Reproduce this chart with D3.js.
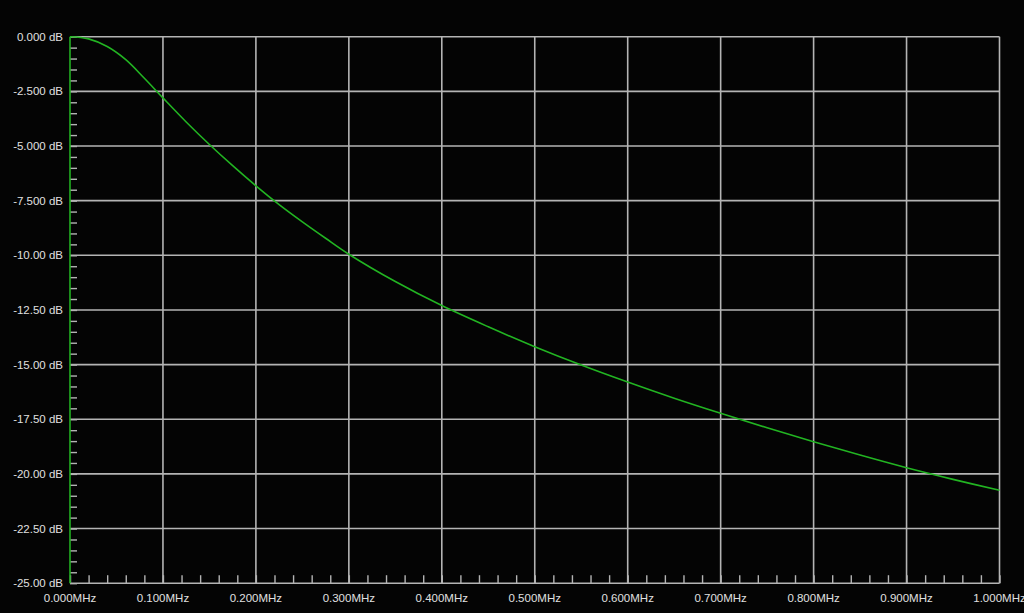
<!DOCTYPE html>
<html><head><meta charset="utf-8">
<script src="https://cdn.jsdelivr.net/npm/d3@7"></script>
<style>html,body{margin:0;padding:0;background:#000;}svg{display:block;}</style>
</head><body>
<svg id="c" width="1024" height="613"></svg>
<script>
const freqMHz = [0, 0.02, 0.04, 0.06, 0.08, 0.1, 0.125, 0.15, 0.175, 0.2, 0.225, 0.25, 0.275, 0.3, 0.35, 0.4, 0.45, 0.5, 0.55, 0.6, 0.65, 0.7, 0.75, 0.8, 0.85, 0.9, 0.95, 1.0];
const gainDb  = [0, -0.1, -0.45, -1.05, -1.9, -2.8, -3.9, -4.93, -5.9, -6.82, -7.68, -8.47, -9.22, -9.95, -11.2, -12.3, -13.27, -14.18, -15.02, -15.8, -16.54, -17.23, -17.89, -18.53, -19.14, -19.72, -20.25, -20.75];
const xTicks = [0, 0.1, 0.2, 0.3, 0.4, 0.5, 0.6, 0.7, 0.8, 0.9, 1.0];
const xTickLabels = ["0.000MHz","0.100MHz","0.200MHz","0.300MHz","0.400MHz","0.500MHz","0.600MHz","0.700MHz","0.800MHz","0.900MHz","1.000MHz"];
const yTicks = [0, -2.5, -5, -7.5, -10, -12.5, -15, -17.5, -20, -22.5, -25];
const yTickLabels = ["0.000 dB","-2.500 dB","-5.000 dB","-7.500 dB","-10.00 dB","-12.50 dB","-15.00 dB","-17.50 dB","-20.00 dB","-22.50 dB","-25.00 dB"];

const svg = d3.select("#c");
const L = 70, R = 999.5, T = 36.7, B = 583.2;
const x = d3.scaleLinear().domain([0, 1]).range([L, R]);
const y = d3.scaleLinear().domain([0, -25]).range([T, B]);
const grid = "#b4b4b4";
const font = "'Liberation Sans', Arial, sans-serif";

svg.append("rect").attr("width",1024).attr("height",613).attr("fill","#040404");

// horizontal grid
svg.append("g").selectAll("line").data(yTicks.slice(0, -1)).join("line")
  .attr("x1", L).attr("x2", R).attr("y1", d => y(d)).attr("y2", d => y(d))
  .attr("stroke", grid).attr("stroke-width", 1.6);
// vertical grid
svg.append("g").selectAll("line").data(xTicks.slice(1)).join("line")
  .attr("x1", d => x(d)).attr("x2", d => x(d)).attr("y1", T).attr("y2", B)
  .attr("stroke", grid).attr("stroke-width", 1.6);

// bottom axis
const xAxis = d3.axisBottom(x).tickValues(d3.range(0, 51).map(i => i / 50)).tickSize(-8).tickFormat("");
const gx = svg.append("g").attr("transform", `translate(0,${B})`).call(xAxis);
gx.select(".domain").attr("stroke", grid).attr("stroke-width", 1.6).attr("d", `M${L},0H${R}`);
gx.selectAll(".tick line").attr("stroke", grid).attr("stroke-width", 1.4);

svg.append("g").selectAll("text").data(xTicks).join("text")
  .attr("x", d => x(d)).attr("y", 602).attr("text-anchor", "middle")
  .attr("fill", "#e0e0e0").attr("font-family", font).attr("font-size", "11.5px")
  .text((d, i) => xTickLabels[i]);

// left axis minor ticks
const yAxis = d3.axisRight(y).tickValues(d3.range(0, 51).map(i => -i / 2)).tickSize(7).tickFormat("");
const gy = svg.append("g").attr("transform", `translate(${L},0)`).call(yAxis);
gy.select(".domain").remove();
gy.selectAll(".tick line").attr("stroke", grid).attr("stroke-width", 1.4);

svg.append("g").selectAll("text").data(yTicks).join("text")
  .attr("x", 63).attr("y", d => y(d)).attr("dy", "0.36em").attr("text-anchor", "end")
  .attr("fill", "#e0e0e0").attr("font-family", font).attr("font-size", "11.5px")
  .text((d, i) => yTickLabels[i]);

// green left axis line
svg.append("line").attr("x1", L).attr("x2", L).attr("y1", T).attr("y2", B)
  .attr("stroke", "#22b022").attr("stroke-width", 1.6);

// curve
const pts = freqMHz.map((f, i) => [f, gainDb[i]]);
svg.append("path").datum(pts)
  .attr("d", d3.line().x(d => x(d[0])).y(d => y(d[1])).curve(d3.curveCatmullRom.alpha(0.5)))
  .attr("fill", "none").attr("stroke", "#22b422").attr("stroke-width", 1.6);
</script>
</body></html>
